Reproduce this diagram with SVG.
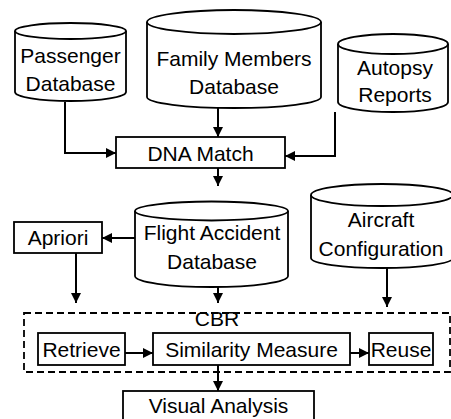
<svg xmlns="http://www.w3.org/2000/svg" width="451" height="419" viewBox="0 0 451 419">
<defs>
<marker id="ah" markerUnits="userSpaceOnUse" markerWidth="10" markerHeight="10" refX="10" refY="5" orient="auto" viewBox="0 0 10 10">
<path d="M0,0 L10,5 L0,10 z" fill="#000"/>
</marker>
<style>
.shape{fill:#fff;stroke:#000;stroke-width:1.8}
.line{fill:none;stroke:#000;stroke-width:1.8}
.t{font-family:"Liberation Sans",Arial,sans-serif;font-size:21px;fill:#000;text-anchor:middle}
.c{fill:none;stroke:#000;stroke-width:2;marker-end:url(#ah)}
</style>
</defs>
<rect width="451" height="419" fill="#fff"/>
<g id="passenger-db">
<path class="shape" d="M15,31 A55.5,8 0 0 1 126,31 L126,92 A55.5,9 0 0 1 15,92 Z"/>
<path class="line" d="M15,31 A55.5,8 0 0 0 126,31"/>
<text class="t" x="70.5" y="63">Passenger</text>
<text class="t" x="70.5" y="91">Database</text>
</g>
<g id="family-db">
<path class="shape" d="M147,22 A87,12 0 0 1 321,22 L321,97 A87,11 0 0 1 147,97 Z"/>
<path class="line" d="M147,22 A87,12 0 0 0 321,22"/>
<text class="t" x="234" y="66">Family Members</text>
<text class="t" x="234" y="94">Database</text>
</g>
<g id="autopsy">
<path class="shape" d="M338,44 A55,10 0 0 1 448,44 L448,102 A55,10 0 0 1 338,102 Z"/>
<path class="line" d="M338,44 A55,10 0 0 0 448,44"/>
<text class="t" x="395" y="75">Autopsy</text>
<text class="t" x="395" y="102">Reports</text>
</g>
<g id="dna-match">
<rect class="shape" x="116" y="137" width="169" height="31"/>
<text class="t" x="200.5" y="161">DNA Match</text>
</g>
<g id="flight-db">
<path class="shape" d="M135,211 A76.5,9.5 0 0 1 288,211 L288,276 A76.5,11 0 0 1 135,276 Z"/>
<path class="line" d="M135,211 A76.5,9.5 0 0 0 288,211"/>
<text class="t" x="212" y="240">Flight Accident</text>
<text class="t" x="212" y="269">Database</text>
</g>
<g id="aircraft">
<path class="shape" d="M311,195 A71,11 0 0 1 453,195 L453,258 A71,10 0 0 1 311,258 Z"/>
<path class="line" d="M311,195 A71,11 0 0 0 453,195"/>
<text class="t" x="381" y="227">Aircraft</text>
<text class="t" x="381" y="256">Configuration</text>
</g>
<g id="apriori">
<rect class="shape" x="14" y="222" width="88" height="31"/>
<text class="t" x="58" y="245">Apriori</text>
</g>
<g id="cbr">
<rect x="24" y="313" width="426" height="59" fill="none" stroke="#000" stroke-width="1.8" stroke-dasharray="7,4"/>
<text class="t" x="217" y="326">CBR</text>
</g>
<g id="retrieve">
<rect class="shape" x="38" y="333" width="87" height="32"/>
<text class="t" x="81.5" y="357">Retrieve</text>
</g>
<g id="similarity">
<rect class="shape" x="153" y="333" width="197" height="32"/>
<text class="t" x="251.5" y="357">Similarity Measure</text>
</g>
<g id="reuse">
<rect class="shape" x="369" y="333" width="64" height="32"/>
<text class="t" x="401" y="357">Reuse</text>
</g>
<g id="visual">
<rect class="shape" x="123" y="391" width="191" height="40"/>
<text class="t" x="218.5" y="413">Visual Analysis</text>
</g>
<g id="connectors">
<path class="c" d="M65,102 V153 H116"/>
<path class="c" d="M218,108 V137"/>
<path class="c" d="M335,112 V156 H285"/>
<path class="c" d="M218,168 V186"/>
<path class="c" d="M135,238 H102"/>
<path class="c" d="M76,253 V303"/>
<path class="c" d="M218,287 V303"/>
<path class="c" d="M387,268 V307"/>
<path class="c" d="M125,353 H153"/>
<path class="c" d="M350,353 H369"/>
<path class="c" d="M218,365 V391"/>
</g>
</svg>
